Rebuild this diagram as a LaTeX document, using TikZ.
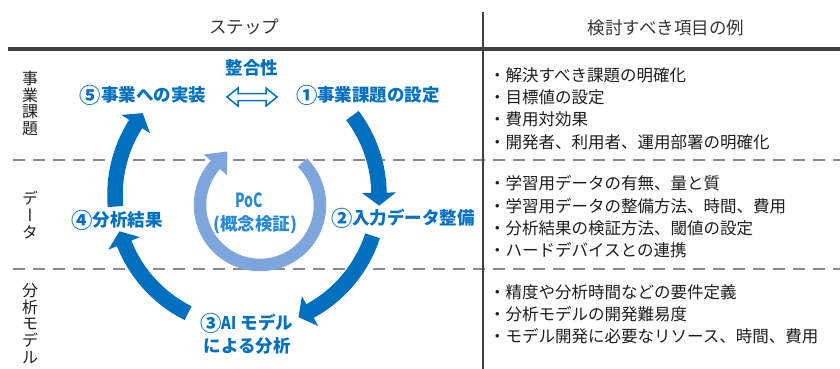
\documentclass[tikz,border=0pt]{standalone}
\usepackage{fontspec}
\setmainfont{Noto Sans CJK JP}
\newfontfamily\vjp{Noto Sans CJK JP}[RawFeature=+vert]
\definecolor{bigblue}{RGB}{0,112,190}
\definecolor{ringblue}{RGB}{124,166,220}
\definecolor{lblblue}{RGB}{0,112,192}
\definecolor{pocblue}{RGB}{40,138,214}
\definecolor{rulegray}{RGB}{64,64,64}
\definecolor{dashgray}{RGB}{140,137,135}
\definecolor{txtdark}{RGB}{30,30,30}
\newcommand\arcarrow[6]{%
  \draw[#1,line width=#4pt,line cap=butt] plot[domain=#2:#3+0.4,samples=70] ({\acx+\arR*cos(\x)},{\acy+\arR*sin(\x)});
  \fill[#1] ({\acx+(\arR+#5)*cos(#3)},{\acy+(\arR+#5)*sin(#3)})
    -- ({\acx+\arR*cos(#3)-#6*sin(#3)},{\acy+\arR*sin(#3)+#6*cos(#3)})
    -- ({\acx+(\arR-#5)*cos(#3)},{\acy+(\arR-#5)*sin(#3)}) -- cycle;
}
\newcommand\cnum[1]{\raisebox{-0.09em}{\scalebox{1.22}{#1}}}
\tikzset{
  hdr/.style={font=\fontsize{17.5}{20}\selectfont, text=txtdark!90, inner sep=0pt},
  vlab/.style={font=\fontsize{16}{16.75}\selectfont, text=txtdark, align=center, inner sep=0pt},
  item/.style={font=\fontsize{16.5}{18}\selectfont, text=txtdark, anchor=west, inner sep=0pt},
  lbl/.style={font=\bfseries\fontsize{17.5}{23}\selectfont, text=lblblue, inner sep=0pt},
  poc/.style={font=\bfseries\fontsize{17.5}{20}\selectfont, text=pocblue, inner sep=0pt},
  sepdash/.style={dashgray, line width=2.5pt, dash pattern=on 12pt off 8pt},
}
\begin{document}
\begin{tikzpicture}[x=1pt,y=-1pt]
\useasboundingbox (0,0) rectangle (840,369);
\fill[white] (0,0) rectangle (840,369);
% separators
\draw[sepdash] (13,160) -- (840,160);
\draw[sepdash] (13,269) -- (840,269);
\draw[rulegray, line width=4pt] (8,49.5) -- (840,49.5);
\draw[rulegray, line width=2.5pt] (483,12) -- (483,369);
% headers
\node[hdr] (h1) at (244,27) {ステップ};
\node[hdr] (h2) at (666,28) {検討すべき項目の例};
% left vertical labels
\node[vlab] (v1) at (30,103.5) {事\\業\\課\\題};
\node[vlab, font=\vjp\fontsize{16}{16.75}\selectfont] (v2) at (30,215) {デ\\ー\\タ};
\node[vlab] (v3) at (30,323.5) {分\\析\\モ\\デ\\ル};
% right column
\node[item] (a1) at (489,75) {・解決すべき課題の明確化};
\node[item] (a2) at (489,97) {・目標値の設定};
\node[item] (a3) at (489,119.5) {・費用対効果};
\node[item] (a4) at (489,142) {・開発者、利用者、運用部署の明確化};
\node[item] (b1) at (489,183.5) {・学習用データの有無、量と質};
\node[item] (b2) at (489,206) {・学習用データの整備方法、時間、費用};
\node[item] (b3) at (489,228) {・分析結果の検証方法、閾値の設定};
\node[item] (b4) at (489,250.5) {・ハードデバイスとの連携};
\node[item] (c1) at (489,292) {・精度や分析時間などの要件定義};
\node[item] (c2) at (489,314) {・分析モデルの開発難易度};
\node[item] (c3) at (489,336) {・モデル開発に必要なリソース、時間、費用};
% big cycle
\def\acx{247}\def\acy{195}\def\arR{132}
\arcarrow{bigblue}{-37}{-1}{15.5}{17}{13}
\arcarrow{bigblue}{18}{61.5}{15.5}{17}{13}
\arcarrow{bigblue}{116.5}{158.5}{15.5}{17}{13}
\arcarrow{bigblue}{175}{212.5}{15.5}{17}{13}
% PoC ring
\def\acx{260}\def\acy{205}\def\arR{60}
\arcarrow{ringblue}{-45}{222}{12.5}{15.5}{18}
% labels
\node[lbl] (sg) at (252,68) {整合性};
\node[lbl] (s5) at (143,95) {\cnum{⑤}事業への実装};
\node[lbl] (s1) at (368,95) {\cnum{①}事業課題の設定};
\node[lbl] (s2) at (403,218) {\cnum{②}入力データ整備};
\node[lbl] (s4) at (117,220) {\cnum{④}分析結果};
\node[lbl, align=center] (s3) at (247,333.5) {\cnum{③}\scalebox{0.85}[1]{AI} モデル\\による分析};
\node[poc, font=\bfseries\fontsize{19.5}{22}\selectfont] (p1) at (249,200) {\scalebox{0.72}[1]{PoC}};
\node[poc] (p2) at (255,225) {(概念検証)};
% hollow double arrow
\coordinate (dl) at (227,97);
\coordinate (dr) at (277,97);
\draw[lblblue, line width=1.5pt, fill=white, line join=miter]
  (dl) -- ++(11,-9) -- ++(0,5.5) -- ++(28,0) -- ++(0,-5.5) -- (dr)
  -- ++(-11,9) -- ++(0,-5.5) -- ++(-28,0) -- ++(0,5.5) -- cycle;
\end{tikzpicture}
\end{document}
